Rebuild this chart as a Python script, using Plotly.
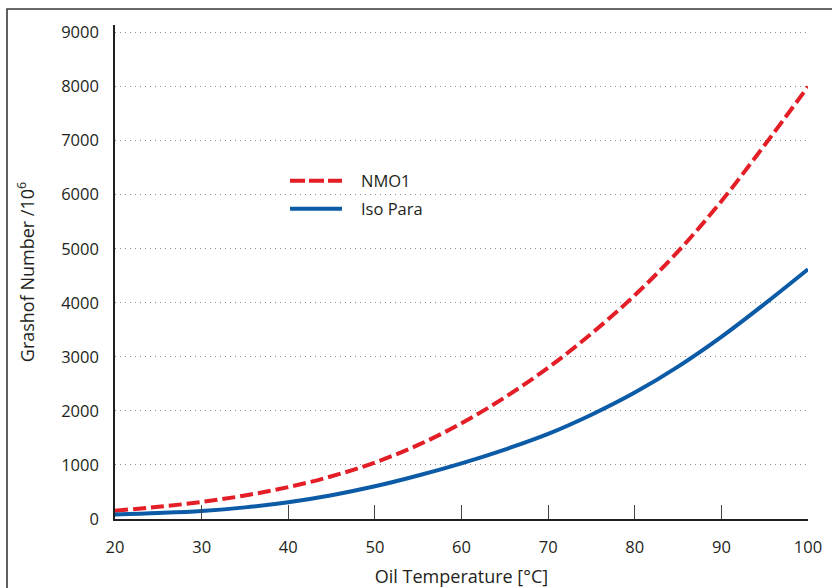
import plotly.graph_objects as go

# Oil temperature [°C]
temperature = [20, 25, 30, 35, 40, 45, 50, 55, 60, 65, 70, 75, 80, 85, 90, 95, 100]

# Grashof number / 10^6
gr_nmo1 = [154, 225, 315, 435, 590, 790, 1045, 1370, 1770, 2250, 2800, 3430, 4140, 4950, 5880, 6920, 8000]
gr_iso_para = [85, 112, 150, 215, 310, 440, 605, 805, 1030, 1285, 1575, 1930, 2340, 2820, 3370, 3980, 4620]

x_ticks = [20, 30, 40, 50, 60, 70, 80, 90, 100]
y_ticks = [0, 1000, 2000, 3000, 4000, 5000, 6000, 7000, 8000, 9000]

series_names = ["NMO1", "Iso Para"]
series_colors = ["#e31e26", "#0b5ba6"]

W, H = 832, 588
M_L, M_R, M_T, M_B = 115, 24, 25, 68.5
PW, PH = W - M_L - M_R, H - M_T - M_B
TEXT = "#231f20"
FONT = "Open Sans"


def px(xp):
    return (xp - M_L) / PW


def py(yp):
    return (H - M_B - yp) / PH


fig = go.Figure()
fig.add_trace(go.Scatter(
    x=temperature, y=gr_nmo1, name=series_names[0], mode="lines",
    line=dict(color=series_colors[0], width=4, dash="13px,5px", shape="spline"),
    showlegend=False,
))
fig.add_trace(go.Scatter(
    x=temperature, y=gr_iso_para, name=series_names[1], mode="lines",
    line=dict(color=series_colors[1], width=4, shape="spline"),
    showlegend=False,
))

shapes = [
    # outer frame
    dict(type="rect", xref="paper", yref="paper",
         x0=px(7), x1=px(850), y0=py(610), y1=py(9),
         line=dict(color="#3a3a3a", width=1.6), fillcolor="rgba(0,0,0,0)", layer="below"),
    # key swatches
    dict(type="line", xref="paper", yref="paper",
         x0=px(290), x1=px(342), y0=py(181), y1=py(181),
         line=dict(color=series_colors[0], width=4, dash="15px,4px")),
    dict(type="line", xref="paper", yref="paper",
         x0=px(290), x1=px(342), y0=py(209), y1=py(209),
         line=dict(color=series_colors[1], width=4)),
]

annotations = [
    dict(text=series_names[0], xref="paper", yref="paper", x=px(359), y=py(181),
         xanchor="left", yanchor="middle", showarrow=False,
         font=dict(family=FONT, size=16.5, color=TEXT)),
    dict(text=series_names[1], xref="paper", yref="paper", x=px(359), y=py(209),
         xanchor="left", yanchor="middle", showarrow=False,
         font=dict(family=FONT, size=16.5, color=TEXT)),
]

fig.update_layout(
    width=W, height=H,
    margin=dict(l=M_L, r=M_R, t=M_T, b=M_B, pad=0),
    paper_bgcolor="white", plot_bgcolor="white",
    font=dict(family=FONT, size=16, color=TEXT),
    shapes=shapes, annotations=annotations,
    showlegend=False,
)

fig.update_xaxes(
    range=[20, 100], tickvals=x_ticks, ticktext=[str(v) for v in x_ticks],
    showgrid=False, zeroline=False,
    showline=True, linecolor=TEXT, linewidth=1.5,
    ticks="inside", ticklen=14, tickwidth=1.3, tickcolor="#444",
    ticklabelstandoff=12,
    tickfont=dict(family=FONT, size=16.5, color=TEXT),
    title=dict(text="Oil Temperature [°C]", standoff=14,
               font=dict(family=FONT, size=18, color=TEXT)),
    automargin=False,
)

fig.update_yaxes(
    range=[0, 9140], tickvals=y_ticks, ticktext=[str(v) for v in y_ticks],
    showgrid=True, gridcolor="#8a8a8a", gridwidth=1, griddash="1px,4px",
    zeroline=False,
    showline=True, linecolor=TEXT, linewidth=1.5,
    ticks="", ticklabelstandoff=11,
    tickfont=dict(family=FONT, size=16.5, color=TEXT),
    title=dict(text="Grashof Number /10<sup>6</sup>", standoff=22,
               font=dict(family=FONT, size=18, color=TEXT)),
    automargin=False,
)

fig.write_html("out.html")
